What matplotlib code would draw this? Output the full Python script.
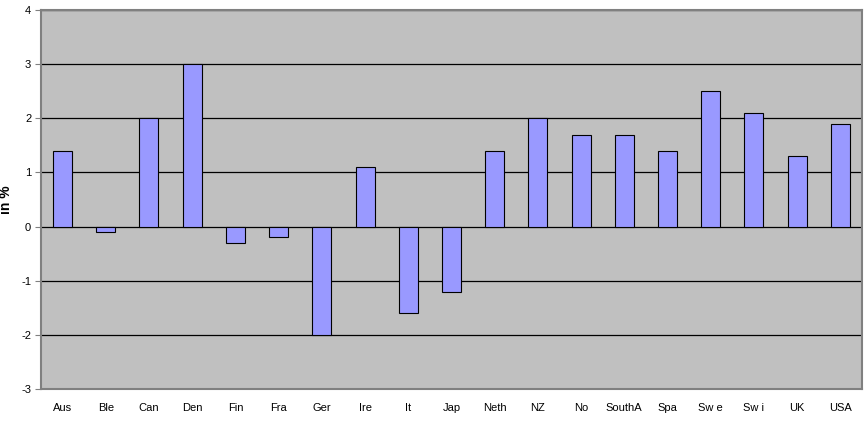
import numpy as np
import matplotlib
matplotlib.use('Agg')
import matplotlib.pyplot as plt

plt.rcParams['font.family'] = ['Liberation Sans', 'DejaVu Sans']

countries = ['Aus', 'Ble', 'Can', 'Den', 'Fin', 'Fra', 'Ger', 'Ire', 'It', 'Jap',
             'Neth', 'NZ', 'No', 'SouthA', 'Spa', 'Sw e', 'Sw i', 'UK', 'USA']
values = [1.4, -0.1, 2.0, 3.0, -0.3, -0.2, -2.0, 1.1, -1.6, -1.2,
          1.4, 2.0, 1.7, 1.7, 1.4, 2.5, 2.1, 1.3, 1.9]
yticks = [-3, -2, -1, 0, 1, 2, 3, 4]

fig = plt.figure(figsize=(8.66, 4.34), dpi=100)
ax = fig.add_axes([0.0473, 0.1037, 0.948, 0.8733])
ax.set_facecolor('#C0C0C0')

x = np.arange(len(countries))
ax.bar(x, values, width=0.44, color='#9999FF', edgecolor='black', linewidth=0.8, zorder=3)

ax.set_xlim(-0.5, len(countries) - 0.5)
ax.set_ylim(-3, 4)
ax.set_yticks(yticks)
ax.set_yticklabels([str(t) for t in yticks], fontsize=8)
ax.yaxis.grid(True, color='black', linewidth=0.9, zorder=1)
ax.set_axisbelow(True)

ax.set_xticks(x)
ax.set_xticklabels(countries, fontsize=8)
ax.tick_params(axis='x', length=0, pad=10)
ax.tick_params(axis='y', length=4, color='#808080', pad=3)

for s in ax.spines.values():
    s.set_color('#808080')
    s.set_linewidth(1.5)
    s.set_zorder(4)

ax.set_ylabel('in %', fontsize=10, fontweight='bold', labelpad=6)

fig.savefig('out.png', dpi=100)
